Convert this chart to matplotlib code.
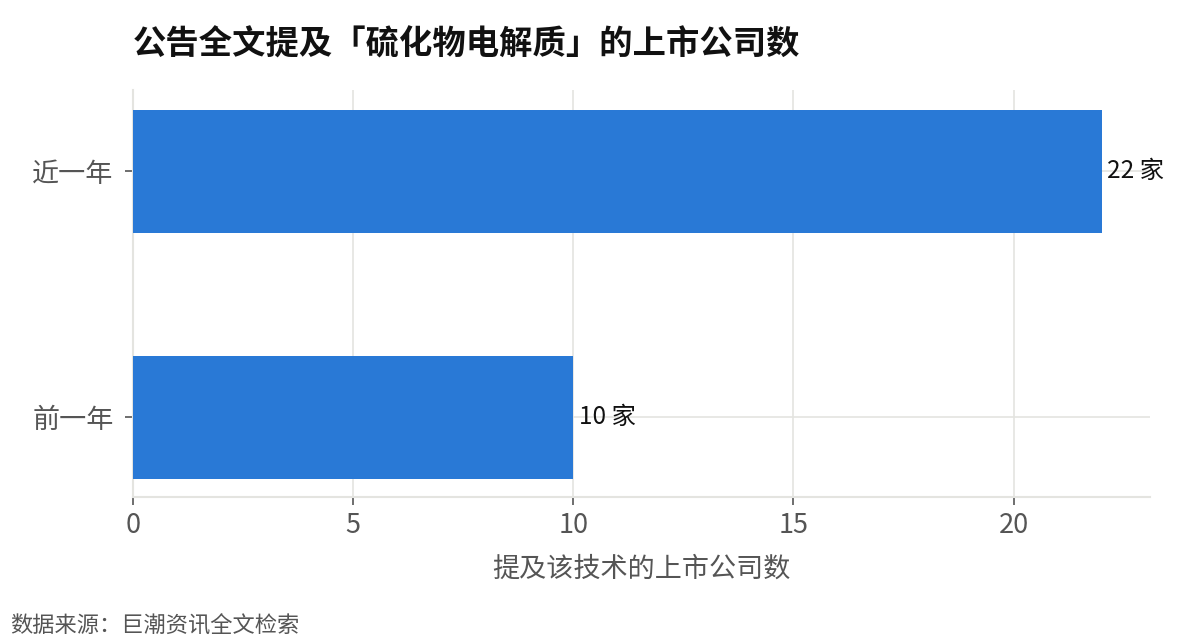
import matplotlib
matplotlib.use("Agg")
import matplotlib.pyplot as plt

plt.rcParams['font.family'] = ['Noto Sans CJK SC', 'DejaVu Sans']

categories = ["前一年", "近一年"]
values = [10, 22]
value_suffix = " 家"
title = "公告全文提及「硫化物电解质」的上市公司数"
xlabel = "提及该技术的上市公司数"
source = "数据来源：巨潮资讯全文检索"

fig = plt.figure(figsize=(12, 6.4), dpi=100)
ax = fig.add_axes([133/1200, 1-497/640, (1150-133)/1200, (497-90)/640])

ypos = list(range(len(categories)))
ax.barh(ypos, values, height=0.5, color="#2979d6", zorder=3)
for y, v in zip(ypos, values):
    ax.text(v + 0.12, y, f"{v}{value_suffix}", va="center", ha="left",
            fontsize=17.5, color="#111111", zorder=4)

ax.set_yticks(ypos)
ax.set_yticklabels(categories)
ax.set_ylim(-0.325, 1.33)
ax.set_xlim(0, 23.1)
ax.set_xticks([0, 5, 10, 15, 20])

ax.grid(True, color="#e4e4e0", linewidth=1.2, zorder=0)
for s in ["top", "right"]:
    ax.spines[s].set_visible(False)
for s in ["left", "bottom"]:
    ax.spines[s].set_color("#e4e4e0")
    ax.spines[s].set_linewidth(1.5)

ax.tick_params(axis="both", labelsize=19.5, labelcolor="#555555", color="#555555",
               length=6, width=1.2)
ax.tick_params(axis="y", pad=8)
ax.tick_params(axis="x", pad=5)
ax.set_xlabel(xlabel, fontsize=19.5, color="#555555", labelpad=12)

fig.text(133/1200, 1-45/640, title, fontsize=24, fontweight="bold",
         color="#111111", va="center", ha="left")
fig.text(10/1200, 1-626/640, source, fontsize=16, color="#555555",
         va="center", ha="left")

fig.savefig("out.png", dpi=100)
